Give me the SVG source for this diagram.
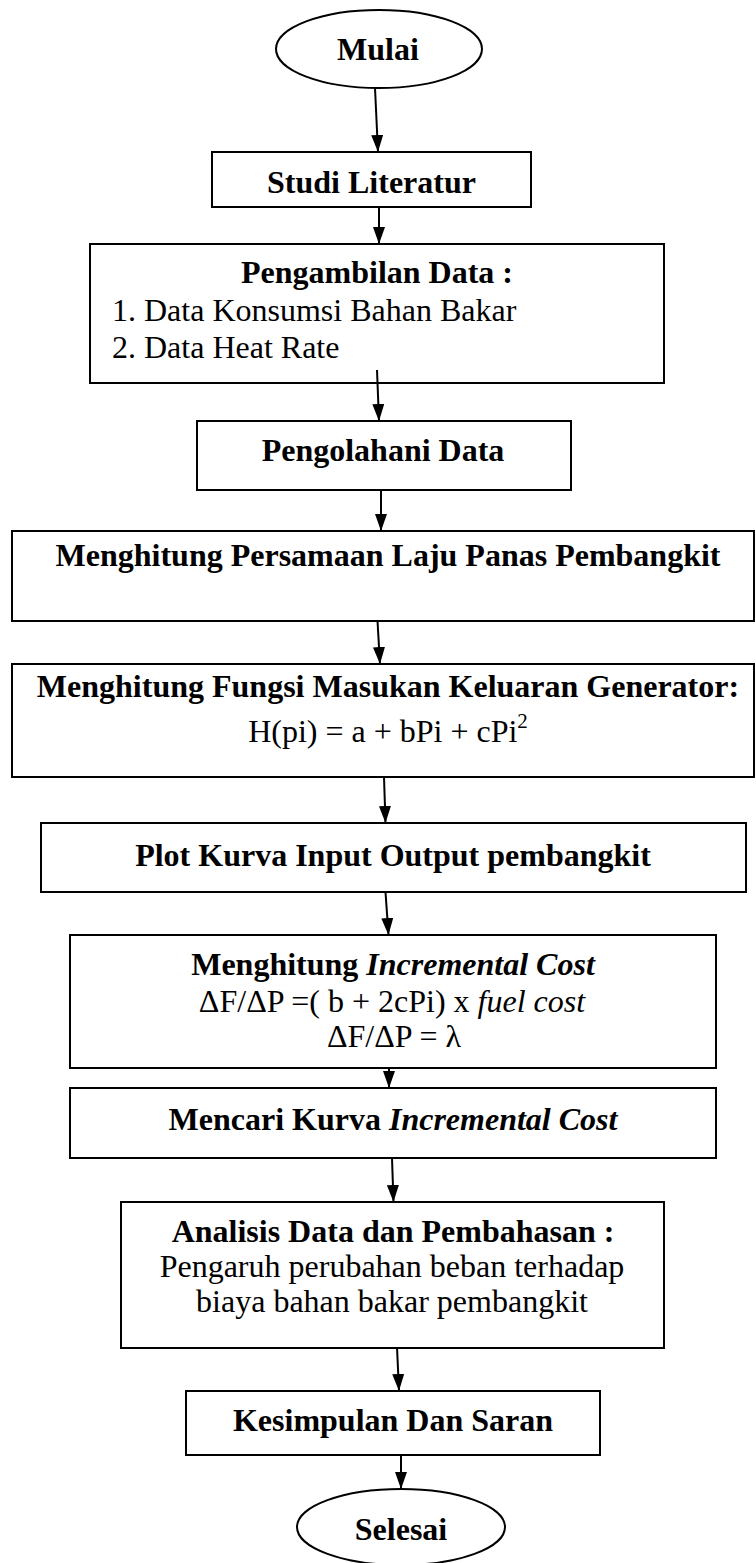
<svg xmlns="http://www.w3.org/2000/svg" width="756" height="1563" viewBox="0 0 756 1563">
<style>
.box{fill:#fff;stroke:#000;stroke-width:2}
.t{font-family:"Liberation Serif","Times New Roman",serif;font-size:32px;fill:#000}
.b{font-weight:bold}
.c{text-anchor:middle}
.i{font-style:italic}
.ln{stroke:#000;stroke-width:2;fill:none}
</style>
<defs>
<marker id="ah" viewBox="0 0 17 12" refX="17" refY="6" markerWidth="17" markerHeight="12" markerUnits="userSpaceOnUse" orient="auto">
<path d="M0,0 L17,6 L0,12 Z" fill="#000"/>
</marker>
</defs>
<rect width="756" height="1563" fill="#fff"/>
<g id="mulai"><ellipse class="box" cx="379" cy="49" rx="103" ry="39"/><text class="t b c" x="378" y="60">Mulai</text></g>
<g id="studi"><rect class="box" x="212" y="152" width="319" height="55"/><text class="t b c" x="371.5" y="193">Studi Literatur</text></g>
<g id="pengambilan"><rect class="box" x="90" y="244" width="574" height="139"/><text class="t b c" x="377" y="283">Pengambilan Data :</text><text class="t" x="112" y="321">1. Data Konsumsi Bahan Bakar</text><text class="t" x="112" y="358">2. Data Heat Rate</text></g>
<g id="pengolahani"><rect class="box" x="197" y="421" width="374" height="69"/><text class="t b c" x="383" y="461">Pengolahani Data</text></g>
<g id="persamaan"><rect class="box" x="12" y="531" width="742" height="90"/><text class="t b c" x="388" y="566" font-size="33">Menghitung Persamaan Laju Panas Pembangkit</text></g>
<g id="fungsi"><rect class="box" x="12" y="664" width="742" height="113"/><text class="t b c" x="388" y="697">Menghitung Fungsi Masukan Keluaran Generator:</text><text class="t c" x="388" y="742">H(pi) = a + bPi + cPi<tspan font-size="21" dy="-14">2</tspan></text></g>
<g id="plot"><rect class="box" x="41" y="823" width="705" height="69"/><text class="t b c" x="393" y="866">Plot Kurva Input Output pembangkit</text></g>
<g id="incremental"><rect class="box" x="70" y="935" width="646" height="133"/><text class="t c" x="393" y="975"><tspan class="b">Menghitung </tspan><tspan class="b i">Incremental Cost</tspan></text><text class="t c" x="392" y="1012">ΔF/ΔP =( b + 2cPi) x <tspan class="i">fuel cost</tspan></text><text class="t c" x="394" y="1047">ΔF/ΔP = λ</text></g>
<g id="mencari"><rect class="box" x="70" y="1088" width="646" height="70"/><text class="t c" x="393" y="1130"><tspan class="b">Mencari Kurva </tspan><tspan class="b i">Incremental Cost</tspan></text></g>
<g id="analisis"><rect class="box" x="121" y="1202" width="543" height="146"/><text class="t b c" x="393" y="1242">Analisis Data dan Pembahasan :</text><text class="t c" x="392" y="1277">Pengaruh perubahan beban terhadap</text><text class="t c" x="392" y="1312">biaya bahan bakar pembangkit</text></g>
<g id="kesimpulan"><rect class="box" x="186" y="1391" width="414" height="64"/><text class="t b c" x="393" y="1431">Kesimpulan Dan Saran</text></g>
<g id="selesai"><ellipse class="box" cx="401" cy="1527" rx="104" ry="38"/><text class="t b c" x="401" y="1540">Selesai</text></g>
<g id="connectors">
<line class="ln" x1="375" y1="88" x2="378" y2="152" marker-end="url(#ah)"/>
<line class="ln" x1="379" y1="207" x2="379" y2="244" marker-end="url(#ah)"/>
<line class="ln" x1="377" y1="370" x2="379" y2="421" marker-end="url(#ah)"/>
<line class="ln" x1="381" y1="489" x2="381" y2="531" marker-end="url(#ah)"/>
<line class="ln" x1="377.5" y1="621" x2="380" y2="664" marker-end="url(#ah)"/>
<line class="ln" x1="384" y1="777" x2="385.5" y2="823" marker-end="url(#ah)"/>
<line class="ln" x1="385.5" y1="892" x2="388.5" y2="935" marker-end="url(#ah)"/>
<line class="ln" x1="389" y1="1068" x2="389" y2="1088" marker-end="url(#ah)"/>
<line class="ln" x1="392" y1="1158" x2="393.5" y2="1202" marker-end="url(#ah)"/>
<line class="ln" x1="397" y1="1347" x2="399" y2="1391" marker-end="url(#ah)"/>
<line class="ln" x1="401" y1="1455" x2="401" y2="1489" marker-end="url(#ah)"/>
</g>
</svg>
